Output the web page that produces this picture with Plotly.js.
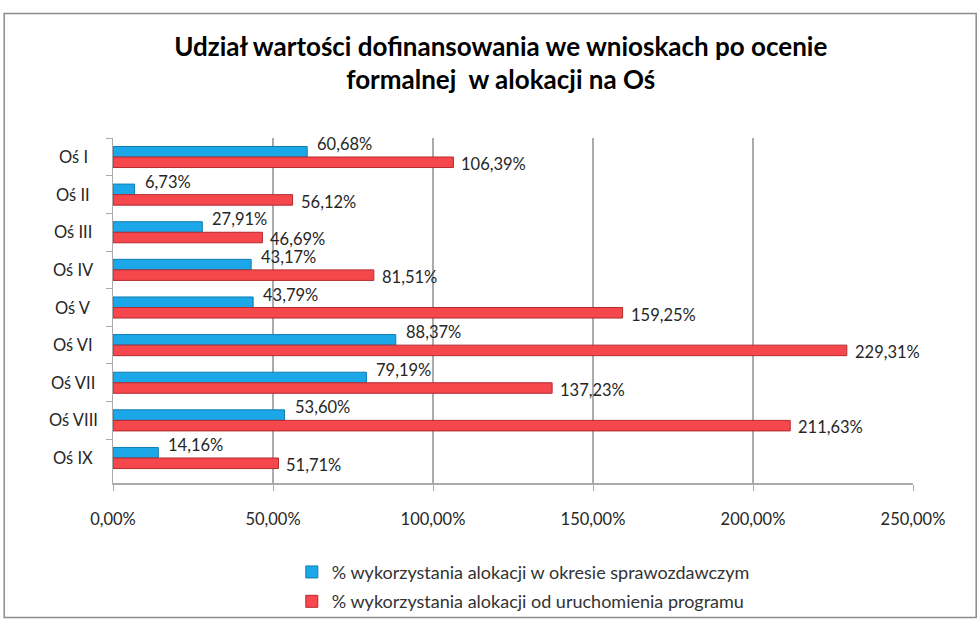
<!DOCTYPE html>
<html>
<head>
<meta charset="utf-8">
<script src="https://cdn.plot.ly/plotly-3.0.1.min.js"></script>
<style>html,body{margin:0;padding:0;background:#fff;}#chart{width:978px;height:632px;}</style>
</head>
<body>
<div id="chart"></div>
<script>
var categories = ['Oś I','Oś II','Oś III','Oś IV','Oś V','Oś VI','Oś VII','Oś VIII','Oś IX'];
var seriesNames = ['% wykorzystania alokacji w okresie sprawozdawczym','% wykorzystania alokacji od uruchomienia programu'];
var okresValues = [60.68, 6.73, 27.91, 43.17, 43.79, 88.37, 79.19, 53.60, 14.16];
var programValues = [106.39, 56.12, 46.69, 81.51, 159.25, 229.31, 137.23, 211.63, 51.71];
var xTicks = [0, 50, 100, 150, 200, 250];

var FONT = 'Lato, "Liberation Sans", sans-serif';
function fmt(v){ return v.toFixed(2).replace('.', ',') + '%'; }

var traces = [
  {type:'bar', orientation:'h', name:seriesNames[0], y:categories, x:okresValues,
   legendgroup:'a', marker:{color:'#1CA8E8', line:{color:'#0F7DB0', width:1}}, hoverinfo:'x+y'},
  {type:'bar', orientation:'h', name:seriesNames[1], y:categories, x:programValues,
   legendgroup:'b', marker:{color:'#F5474C', line:{color:'#B52A2E', width:1}}, hoverinfo:'x+y'}
];

var annotations = [];
categories.forEach(function(c, i){
  // category label, centred like the reference
  annotations.push({x:-0.05, xref:'paper', y:c, yref:'y', text:c, showarrow:false,
    xanchor:'center', yanchor:'middle', font:{family:FONT, size:16.5, color:'#262626'}});
  annotations.push({x:okresValues[i], y:c, xref:'x', yref:'y', text:fmt(okresValues[i]),
    showarrow:false, xanchor:'left', yanchor:'middle', xshift:8, yshift:13,
    font:{family:FONT, size:16.5, color:'#262626'}});
  annotations.push({x:programValues[i], y:c, xref:'x', yref:'y', text:fmt(programValues[i]),
    showarrow:false, xanchor:'left', yanchor:'middle', xshift:6, yshift:-7,
    font:{family:FONT, size:16.5, color:'#262626'}});
});

var layout = {
  width:978, height:632,
  margin:{l:113, r:65, t:138, b:137},
  paper_bgcolor:'#fff', plot_bgcolor:'#fff',
  separators:', ',
  barmode:'group', bargap:0.44, bargroupgap:0,
  font:{family:FONT, size:15, color:'#262626'},
  title:{text:'Udział wartości dofinansowania we wnioskach po ocenie<br>formalnej  w alokacji na Oś',
    font:{family:FONT, size:26, color:'#000', weight:'bold'},
    xref:'container', x:0.512, xanchor:'center', yref:'container', y:0.912, yanchor:'top'},
  xaxis:{range:[0,250], tickvals:xTicks, ticktext:xTicks.map(fmt),
    showgrid:true, gridcolor:'#ABABAB', gridwidth:1.5, zeroline:false,
    showline:true, linecolor:'#ABABAB', linewidth:1.5,
    ticks:'outside', ticklen:6, tickcolor:'#ABABAB', ticklabelstandoff:15,
    tickfont:{family:FONT, size:16.5, color:'#262626'}, fixedrange:true},
  yaxis:{type:'category', autorange:'reversed', showgrid:false, zeroline:false,
    showline:true, linecolor:'#ABABAB', linewidth:1.5, showticklabels:false,
    ticks:'outside', tickson:'boundaries', ticklen:6, tickcolor:'#ABABAB',
    fixedrange:true},
  legend:{orientation:'v', x:0.2235, xanchor:'left', y:-0.205, yanchor:'top',
    traceorder:'grouped', tracegroupgap:3,
    font:{family:FONT, size:18, color:'#333'}, bgcolor:'rgba(0,0,0,0)'},
  annotations:annotations,
  shapes:[{type:'rect', xref:'paper', yref:'paper', x0:-0.136, x1:1.079, y0:-0.39, y1:1.3606,
    line:{color:'#8C8C8C', width:1.5}, fillcolor:'rgba(0,0,0,0)', layer:'below'}]
};

Plotly.newPlot('chart', traces, layout, {displayModeBar:false, staticPlot:true});
</script>
</body>
</html>
